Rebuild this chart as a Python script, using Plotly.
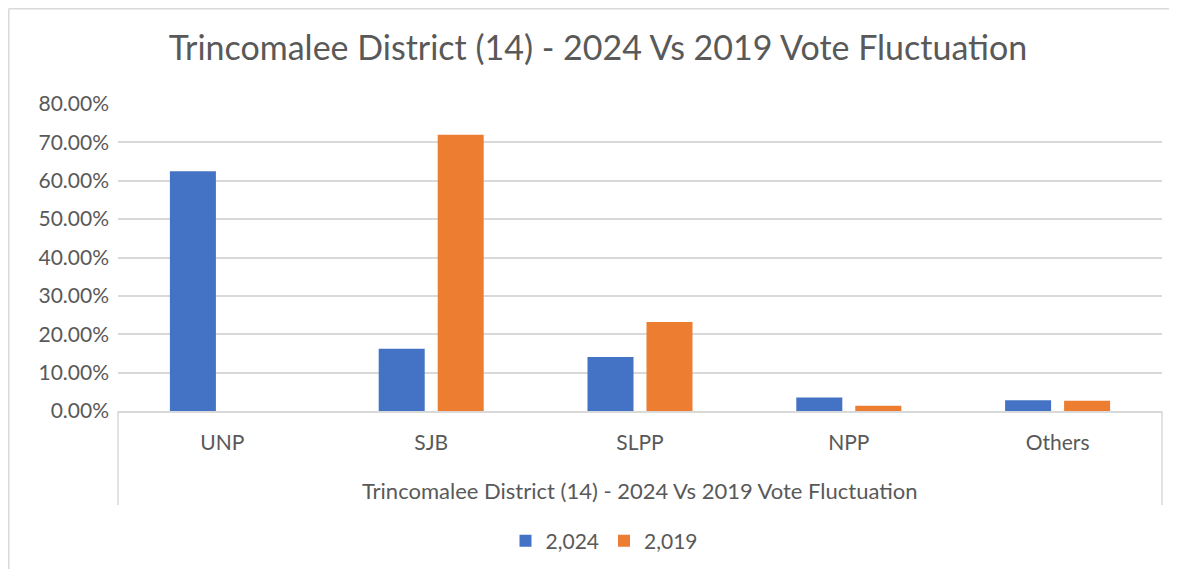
import plotly.graph_objects as go

categories = ["UNP", "SJB", "SLPP", "NPP", "Others"]
series_names = ["2,024", "2,019"]
values_2024 = [0.625, 0.162, 0.141, 0.035, 0.028]
values_2019 = [0.0, 0.720, 0.232, 0.014, 0.027]
colors = ["#4472C4", "#ED7D31"]
title_text = "Trincomalee District (14) - 2024 Vs 2019 Vote Fluctuation"
tick_vals = [0, 0.1, 0.2, 0.3, 0.4, 0.5, 0.6, 0.7, 0.8]

FONT = "Lato"
GREY = "#595959"
O = 8  # page body margin offset

fig = go.Figure()
for name, vals, col in zip(series_names, [values_2024, values_2019], colors):
    fig.add_trace(go.Bar(x=categories, y=vals, name=name, marker=dict(color=col, line=dict(width=0))))

W, H = 1177 - 2 * O, 577 - 2 * O
L = 118 - O
T = 104 - O
R = W - (1162 - O)
B = H - (411 - O)
pw, ph = W - L - R, H - T - B

def px(x):
    return (x - O - L) / pw

def py(y):
    return (H - B - (y - O)) / ph

border = dict(color="#D9D9D9", width=1.5)

fig.update_layout(
    width=W, height=H,
    margin=dict(l=L, r=R, t=T, b=B),
    paper_bgcolor="white", plot_bgcolor="white",
    barmode="group", bargap=0.435, bargroupgap=0.22,
    font=dict(family=FONT, color=GREY, size=21),
    title=dict(text=title_text, x=(598 - O) / W, xref="container", xanchor="center",
               y=1 - (48 - O) / H, yref="container", yanchor="middle",
               font=dict(family=FONT, size=34, color=GREY)),
    legend=dict(orientation="h", x=px(604), xanchor="center", y=py(541), yanchor="middle",
                font=dict(family=FONT, size=21, color=GREY), itemwidth=30,
                traceorder="normal"),
    xaxis=dict(showgrid=False, showline=True, linecolor="#D9D9D9", linewidth=1.5,
               ticks="", ticklabelstandoff=12, tickfont=dict(size=21, color=GREY)),
    yaxis=dict(range=[0, 0.8], tickvals=tick_vals, tickformat=".2%",
               showgrid=True, gridcolor="#D9D9D9", gridwidth=1.5,
               zeroline=False, showline=False, ticks="", ticklabelstandoff=8,
               tickfont=dict(size=21, color=GREY)),
    shapes=[
        dict(type="line", xref="paper", yref="paper", x0=0, x1=0, y0=0, y1=py(505), line=border),
        dict(type="line", xref="paper", yref="paper", x0=1, x1=1, y0=0, y1=py(505), line=border),
        dict(type="line", xref="paper", yref="paper", x0=px(8.8), x1=px(8.8), y0=py(700), y1=py(8.8),
             line=border, layer="below"),
        dict(type="line", xref="paper", yref="paper", x0=px(8.8), x1=px(1250), y0=py(8.8), y1=py(8.8),
             line=border, layer="below"),
    ],
    annotations=[
        dict(text=title_text, xref="paper", yref="paper", x=px(640), y=py(490),
             xanchor="center", yanchor="middle", showarrow=False,
             font=dict(family=FONT, size=22, color=GREY)),
    ],
)

fig.write_html("out.html")
